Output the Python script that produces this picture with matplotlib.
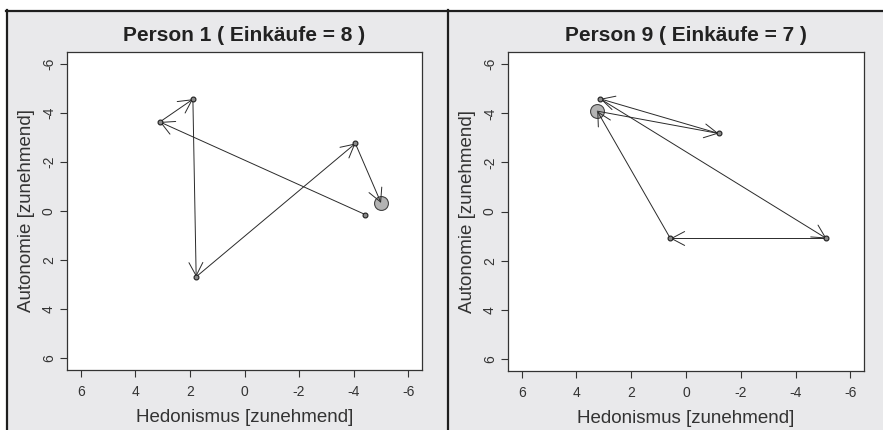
import matplotlib
matplotlib.use("Agg")
import matplotlib.pyplot as plt
from matplotlib.patches import Rectangle
from matplotlib.lines import Line2D

plt.rcParams['font.family'] = ['Liberation Sans', 'DejaVu Sans']

# Person 1: positions in purchase order (last one drawn as large circle)
p1_hedonismus = [-4.43, 3.10, 1.89, 1.77, -4.06, -5.00]
p1_autonomie = [0.15, -3.64, -4.57, 2.69, -2.76, -0.33]
p1_title = "Person 1 ( Einkäufe = 8 )"

# Person 9: positions in purchase order (last one drawn as large circle)
p9_hedonismus = [3.24, -1.19, 3.13, -5.13, 0.57, 3.24]
p9_autonomie = [-4.09, -3.18, -4.59, 1.10, 1.10, -4.09]
p9_title = "Person 9 ( Einkäufe = 7 )"

ticks = [6, 4, 2, 0, -2, -4, -6]
xlabel = "Hedonismus [zunehmend]"
ylabel = "Autonomie [zunehmend]"

W, H = 883, 430
fig = plt.figure(figsize=(W / 100, H / 100), dpi=100)
fig.patch.set_facecolor('white')

bg = '#e9e9eb'
# panel backgrounds and frame lines
fig.patches.append(Rectangle((6 / W, 0), (442) / W, (H - 10) / H,
                             transform=fig.transFigure, facecolor=bg, edgecolor='none', zorder=-2))
fig.patches.append(Rectangle((448 / W, 0), (W - 448) / W, (H - 10) / H,
                             transform=fig.transFigure, facecolor=bg, edgecolor='none', zorder=-2))
for (xs, ys) in [([6 / W, 1], [(H - 10.5) / H] * 2),
                 ([6.5 / W] * 2, [0, (H - 10) / H]),
                 ([448 / W] * 2, [0, (H - 10) / H])]:
    fig.lines.append(Line2D(xs, ys, transform=fig.transFigure, color='#1e1e1e', lw=1.6, zorder=-1))

axes_boxes = [(67, 422, 52, 370), (508, 864, 52, 371)]
data = [(p1_hedonismus, p1_autonomie, p1_title), (p9_hedonismus, p9_autonomie, p9_title)]

line_col = '#2a2a2a'
for (l, r, t, b), (hx, ay, title) in zip(axes_boxes, data):
    ax = fig.add_axes([l / W, (H - b) / H, (r - l) / W, (b - t) / H])
    ax.set_zorder(2)
    ax.set_facecolor('white')
    ax.set_xlim(6.5, -6.5)
    ax.set_ylim(6.5, -6.5)
    ax.set_xticks(ticks)
    ax.set_yticks(ticks)
    ax.set_xticklabels([str(v) for v in ticks])
    ax.set_yticklabels([str(v) for v in ticks], rotation=90, va='center')
    ax.tick_params(length=5, width=0.8, color='#333333', labelsize=10,
                   labelcolor='#333333')
    ax.tick_params(axis='x', pad=6)
    ax.tick_params(axis='y', pad=3)
    for s in ax.spines.values():
        s.set_color('#333333')
        s.set_linewidth(0.9)
    ax.set_title(title, fontsize=15, fontweight='bold', color='#222222', pad=8)
    ax.set_xlabel(xlabel, fontsize=13.5, color='#333333', labelpad=7)
    ax.set_ylabel(ylabel, fontsize=13.5, color='#333333', labelpad=5)

    # latest purchase as large grey circle
    ax.plot(hx[-1:], ay[-1:], 'o', ms=10, mfc='#b3b3b3', mec='#444444', mew=0.8, zorder=2)

    # movement arrows between consecutive purchases
    for i in range(len(hx) - 1):
        ax.annotate('', xy=(hx[i + 1], ay[i + 1]), xytext=(hx[i], ay[i]),
                    arrowprops=dict(arrowstyle='->,head_length=0.95,head_width=0.5',
                                    color=line_col, lw=0.7, shrinkA=0, shrinkB=0),
                    zorder=3)

    # earlier purchase positions (those not hidden under the large circle)
    small = [(x, y) for x, y in zip(hx[:-1], ay[:-1]) if (x, y) != (hx[-1], ay[-1])]
    ax.plot([p[0] for p in small], [p[1] for p in small], 'o', ms=3.5,
            mfc='#8a8a8a', mec='#1e1e1e', mew=0.8, zorder=4)

fig.savefig('out.png', dpi=100, facecolor=fig.get_facecolor())
